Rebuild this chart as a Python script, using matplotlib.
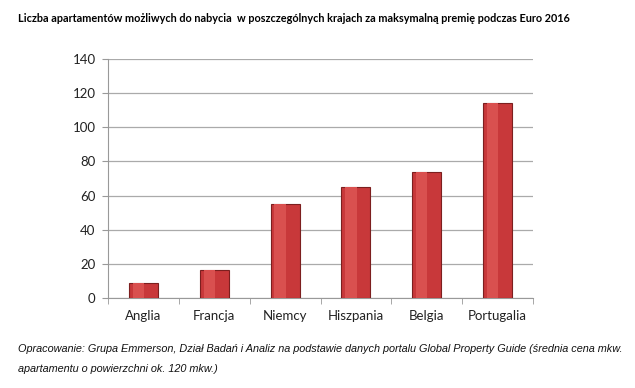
import matplotlib.pyplot as plt
import numpy as np

countries = ['Anglia', 'Francja', 'Niemcy', 'Hiszpania', 'Belgia', 'Portugalia']
apartments = [8.5, 16.5, 55, 65, 74, 114]
yticks = [0, 20, 40, 60, 80, 100, 120, 140]

title = 'Liczba apartamentów możliwych do nabycia  w poszczególnych krajach za maksymalną premię podczas Euro 2016'
source = ('Opracowanie: Grupa Emmerson, Dział Badań i Analiz na podstawie danych portalu Global Property Guide (średnia cena mkw.\n'
          'apartamentu o powierzchni ok. 120 mkw.)')

fig = plt.figure(figsize=(6.35, 3.88), dpi=100)
ax = fig.add_axes([108 / 635, 1 - 298 / 388, 425 / 635, 239 / 388])

x = np.arange(len(countries))
ax.bar(x, apartments, width=0.41, color='#c8383a', edgecolor='#7c1f1f', linewidth=0.8, zorder=3)
# lighter left half for a bit of shading
ax.bar(x - 0.07, apartments, width=0.16, color='#d9504f', linewidth=0, zorder=4)

ax.set_xlim(-0.5, len(countries) - 0.5)
ax.set_ylim(0, 140)
ax.set_xticks(x)
ax.set_xticklabels(countries, family='Lato')
ax.set_yticks(yticks)
ax.set_yticklabels([str(v) for v in yticks], family='Lato')
ax.set_xticks(np.arange(-0.5, len(countries)), minor=True)
ax.tick_params(axis='x', which='major', length=0, pad=9, labelsize=9.5, labelcolor='#222222')
ax.tick_params(axis='x', which='minor', length=4, color='#999999', direction='out')
ax.tick_params(axis='y', length=4, color='#999999', pad=5, labelsize=9.5, labelcolor='#222222')
ax.yaxis.grid(True, color='#aaaaaa', linewidth=0.9, zorder=0)
for s in ['top', 'right']:
    ax.spines[s].set_visible(False)
for s in ['left', 'bottom']:
    ax.spines[s].set_color('#999999')

fig.text(18 / 635, 1 - 19 / 388, title, fontsize=7.85, fontweight='bold', va='center', ha='left', family='Lato')
fig.text(18 / 635, 1 - 359 / 388, source, fontsize=7.8, style='italic', va='center', ha='left',
         family='Liberation Sans', linespacing=2.15, color='#111111')
fig.savefig('out.png', dpi=100)
